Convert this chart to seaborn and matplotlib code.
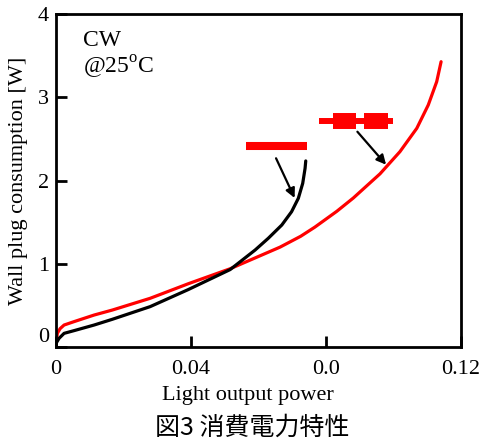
import matplotlib
matplotlib.use("Agg")
import matplotlib.pyplot as plt
import seaborn as sns

# Light output power vs wall plug consumption
red_x = [0, 0.0001, 0.0004, 0.0012, 0.0024, 0.0053, 0.0113, 0.0167, 0.0279, 0.0392,
         0.0516, 0.059, 0.0664, 0.0725, 0.0767, 0.0832, 0.0881, 0.093, 0.096,
         0.1019, 0.1069, 0.1103, 0.1128, 0.1141]
red_y = [0, 0.07, 0.164, 0.22, 0.264, 0.304, 0.384, 0.444, 0.585, 0.76,
         0.94, 1.07, 1.2, 1.33, 1.44, 1.63, 1.79, 1.97, 2.08,
         2.346, 2.627, 2.907, 3.187, 3.427]

black_x = [0, 0.0001, 0.0009, 0.0024, 0.0053, 0.0113, 0.0167, 0.0279, 0.0392,
           0.0516, 0.059, 0.0629, 0.0669, 0.0698, 0.0718, 0.0731, 0.0738, 0.074]
black_y = [0, 0.05, 0.104, 0.164, 0.196, 0.264, 0.333, 0.485, 0.69,
           0.93, 1.165, 1.306, 1.465, 1.625, 1.786, 1.966, 2.146, 2.235]

x_ticks = [0, 0.04, 0.08, 0.12]
x_tick_labels = ["0", "0.04", "0.0", "0.12"]
y_ticks = [0, 1, 2, 3, 4]
y_tick_labels = ["0", "1", "2", "3", "4"]

# marker bars and arrows (data coords)
solid_bar_x = [0.0563, 0.0743]
solid_bar_y = 2.42
dash_bar_x = [0.078, 0.0998]
dash_blocks_x = [[0.082, 0.0889], [0.0913, 0.0985]]
dash_bar_y = 2.71
arrow1 = ((0.0652, 2.267), (0.0707, 1.79))
arrow2 = ((0.0893, 2.586), (0.0978, 2.19))

sns.set_style("ticks")
plt.rcParams["font.family"] = ["Liberation Serif", "Noto Sans CJK JP"]
plt.rcParams["mathtext.fontset"] = "custom"
plt.rcParams["mathtext.rm"] = "Liberation Serif"
plt.rcParams["text.color"] = "black"
plt.rcParams["axes.labelcolor"] = "black"

fig = plt.figure(figsize=(4.85, 4.41), dpi=100)
ax = fig.add_axes([56 / 485, 1 - 347 / 441, 405 / 485, 333 / 441])

sns.lineplot(x=red_x, y=red_y, sort=False, estimator=None, color="#ff0000",
             linewidth=2.3, ax=ax)
sns.lineplot(x=black_x, y=black_y, sort=False, estimator=None, color="black",
             linewidth=2.3, ax=ax)

# legend-like bars
ax.plot(solid_bar_x, [solid_bar_y] * 2, color="#ff0000", lw=5.8, solid_capstyle="butt")
ax.plot(dash_bar_x, [dash_bar_y] * 2, color="#ff0000", lw=4.3, solid_capstyle="butt")
for bx in dash_blocks_x:
    ax.plot(bx, [dash_bar_y] * 2, color="#ff0000", lw=11.5, solid_capstyle="butt")

for (sx, sy), (ex, ey) in [arrow1, arrow2]:
    ax.annotate("", xy=(ex, ey), xytext=(sx, sy),
                arrowprops=dict(arrowstyle="-|>", color="black", lw=1.6,
                                mutation_scale=14, shrinkA=0, shrinkB=0))

ax.set_xlim(0, 0.12)
ax.set_ylim(0, 4)
ax.set_xticks(x_ticks)
ax.set_xticklabels(x_tick_labels)
ax.set_yticks(y_ticks)
ax.set_yticklabels(y_tick_labels)
ax.get_yticklabels()[0].set_verticalalignment("bottom")
ax.tick_params(direction="in", length=8, width=2, labelsize=16,
               colors="black", labelcolor="black")
ax.tick_params(axis="x", pad=9)
ax.tick_params(axis="y", pad=5)
for s in ax.spines.values():
    s.set_linewidth(2)
    s.set_color("black")

ax.set_xlabel("Light output power", fontsize=16)
ax.xaxis.set_label_coords(0.473, -0.118)
ax.set_ylabel("Wall plug consumption [W]", fontsize=16)
ax.yaxis.set_label_coords(-0.068, 0.5)

ax.text(0.067, 0.92, "CW", transform=ax.transAxes, fontsize=17, va="center")
ax.text(0.067, 0.84, r"@25$^\mathrm{o}$C", transform=ax.transAxes, fontsize=17,
        va="center")

fig.text(252 / 485, 1 - 428 / 441, "図3 消費電力特性", ha="center", va="center",
         fontsize=18, family=["Noto Sans CJK JP", "DejaVu Sans"])

fig.savefig("out.png", dpi=100)
